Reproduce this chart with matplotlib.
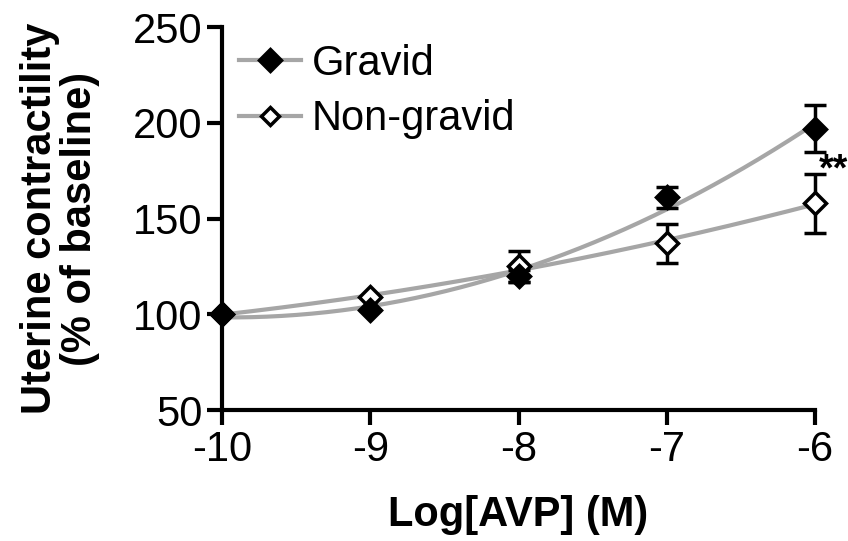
import matplotlib
matplotlib.use("Agg")
import matplotlib.pyplot as plt
import numpy as np

plt.rcParams['font.family'] = ['Liberation Sans', 'DejaVu Sans']

log_avp = [-10, -9, -8, -7, -6]
gravid = [100, 102, 120, 161, 197]
gravid_err = [0, 0, 3, 5.5, 12.5]
nongravid = [100, 109, 125, 137, 158]
nongravid_err = [0, 0, 8, 10, 15.5]

fig = plt.figure(figsize=(8.48, 5.41), dpi=100)
ax = fig.add_axes([0.262, 0.242, 0.699, 0.708])

gray = '#a6a6a6'
xs = np.linspace(-10, -6, 200)

# fitted curves (quadratic fit through the means)
for y in [gravid, nongravid]:
    p = np.polyfit(log_avp, y, 2)
    ax.plot(xs, np.polyval(p, xs), color=gray, lw=3, zorder=2, solid_capstyle='butt')

for y, err in [(gravid, gravid_err), (nongravid, nongravid_err)]:
    eb = ax.errorbar(log_avp, y, yerr=err, fmt='none', ecolor='black',
                     elinewidth=2.5, capsize=8, capthick=2.5, zorder=3)
    for art in eb.lines[1] + eb.lines[2]:
        art.set_clip_on(False)
ax.plot(log_avp, nongravid, 'D', ms=11, mfc='white', mec='black', mew=2.5, zorder=4, clip_on=False)
ax.plot(log_avp, gravid, 'D', ms=11, mfc='black', mec='black', mew=2.5, zorder=5, clip_on=False)

# legend handles
ax.plot([], [], color=gray, lw=3, marker='D', ms=11, mfc='black', mec='black', mew=2.5, label='Gravid')
ax.plot([], [], color=gray, lw=3, marker='D', ms=9, mfc='white', mec='black', mew=2.5, label='Non-gravid')
ax.legend(loc='upper left', bbox_to_anchor=(0.0, 1.0), frameon=False, fontsize=30,
          handlelength=1.5, handletextpad=0.25, labelspacing=0.37, borderaxespad=0.0)

ax.text(-5.975, 175, '**', fontsize=27, fontweight='bold', ha='left', va='center', clip_on=False)

ax.set_xlim(-10, -6)
ax.set_ylim(50, 250)
ax.set_xticks(log_avp)
ax.set_xticklabels(['-10', '-9', '-8', '-7', '-6'])
ax.set_yticks([50, 100, 150, 200, 250])
ax.spines['top'].set_visible(False)
ax.spines['right'].set_visible(False)
for s in ['left', 'bottom']:
    ax.spines[s].set_linewidth(3)
ax.tick_params(width=3, length=11, labelsize=30, pad=3)

ax.set_xlabel('Log[AVP] (M)', fontsize=30, fontweight='bold', labelpad=18)
ax.set_ylabel('Uterine contractility\n(% of baseline)', fontsize=30, fontweight='bold', labelpad=24, linespacing=1.0)

fig.savefig('out.png', dpi=100)
